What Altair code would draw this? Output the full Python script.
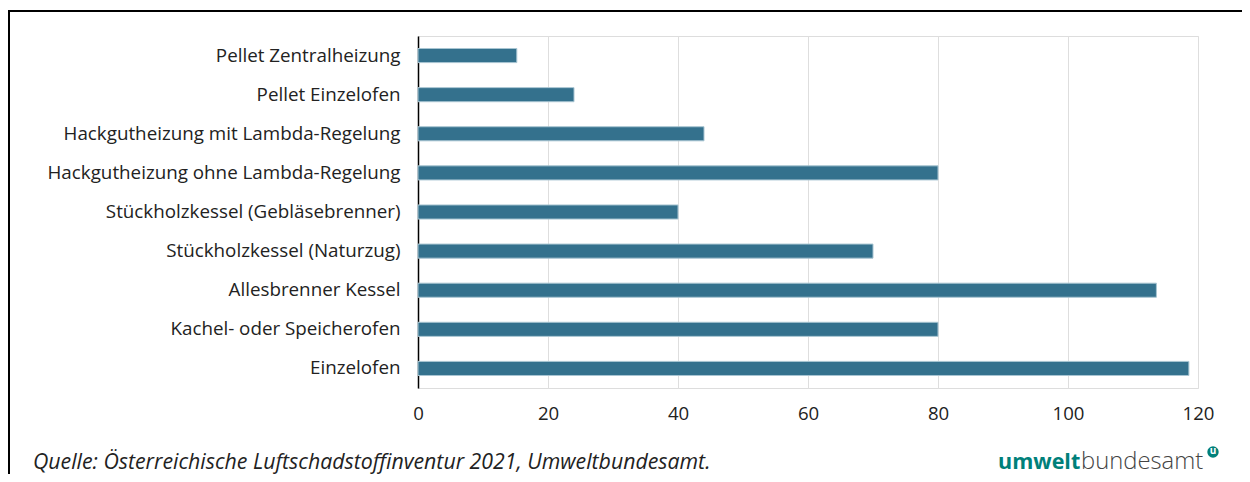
import altair as alt
import pandas as pd

categories = [
    "Pellet Zentralheizung",
    "Pellet Einzelofen",
    "Hackgutheizung mit Lambda-Regelung",
    "Hackgutheizung ohne Lambda-Regelung",
    "Stückholzkessel (Gebläsebrenner)",
    "Stückholzkessel (Naturzug)",
    "Allesbrenner Kessel",
    "Kachel- oder Speicherofen",
    "Einzelofen",
]
values = [15.2, 24, 44, 80, 40, 70, 113.6, 80, 118.6]
x_ticks = [0, 20, 40, 60, 80, 100, 120]
source_text = "Quelle: Österreichische Luftschadstoffinventur 2021, Umweltbundesamt."

df = pd.DataFrame({"kategorie": categories, "wert": values})

FONT = "Open Sans"
W, H = 780, 352
PL, PT, PR, PB = 410, 28, 44, 86

bars = alt.Chart(df).mark_bar(
    color="#34718d", stroke="#a8c5d2", strokeWidth=1
).encode(
    x=alt.X("wert:Q",
            scale=alt.Scale(domain=[0, 120], nice=False, zero=True),
            axis=alt.Axis(values=x_ticks, title=None, domain=False, ticks=False,
                          grid=True, gridColor="#dedede", gridWidth=1,
                          labelFont=FONT, labelFontSize=18.6, labelColor="#222222",
                          labelPadding=16, labelFlush=False)),
    y=alt.Y("kategorie:N", sort=categories,
            scale=alt.Scale(paddingInner=0.64, paddingOuter=0.32),
            axis=alt.Axis(title=None, domain=True, domainColor="#000000", domainWidth=1.5,
                          ticks=False, grid=False,
                          labelFont=FONT, labelFontSize=18.8, labelColor="#222222",
                          labelPadding=18, labelLimit=500)),
)

frame_top = alt.Chart(df).mark_rule(color="#000000", strokeWidth=2).encode(
    x=alt.value(-PL), x2=alt.value(W + PR), y=alt.value(-PT + 3)
)
frame_left = alt.Chart(df).mark_rule(color="#000000", strokeWidth=2).encode(
    x=alt.value(-PL + 1), y=alt.value(-PT + 3), y2=alt.value(H + PB)
)

source = alt.Chart(pd.DataFrame({"t": [source_text]})).mark_text(
    font=FONT, fontSize=21.3, fontStyle="italic", color="#222222",
    align="left", baseline="alphabetic"
).encode(x=alt.value(-385), y=alt.value(433), text="t:N")

logo1 = alt.Chart(pd.DataFrame({"t": ["umwelt"]})).mark_text(
    font=FONT, fontSize=21.5, fontWeight="bold", color="#00807a",
    align="left", baseline="alphabetic"
).encode(x=alt.value(580), y=alt.value(432.5), text="t:N")

logo2 = alt.Chart(pd.DataFrame({"t": ["bundesamt"]})).mark_text(
    font=FONT, fontSize=23.8, fontWeight=300, color="#444444",
    align="left", baseline="alphabetic"
).encode(x=alt.value(663), y=alt.value(432.5), text="t:N")

logo_dot = alt.Chart(pd.DataFrame({"t": ["u"]})).mark_point(
    filled=True, shape="circle", size=130, color="#00807a", opacity=1
).encode(x=alt.value(795), y=alt.value(416))

logo_u = alt.Chart(pd.DataFrame({"t": ["u"]})).mark_text(
    font=FONT, fontSize=10, fontWeight="bold", color="#ffffff",
    align="center", baseline="middle"
).encode(x=alt.value(795), y=alt.value(415), text="t:N")

chart = alt.layer(
    bars, frame_top, frame_left, source, logo1, logo2, logo_dot, logo_u
).properties(
    width=W, height=H,
    autosize=alt.AutoSizeParams(type="none"),
    padding={"left": PL, "top": PT, "right": PR, "bottom": PB},
).configure_view(stroke=None).configure(background="#ffffff")

chart.save("out.html", embed_options={"renderer": "svg", "actions": False})
